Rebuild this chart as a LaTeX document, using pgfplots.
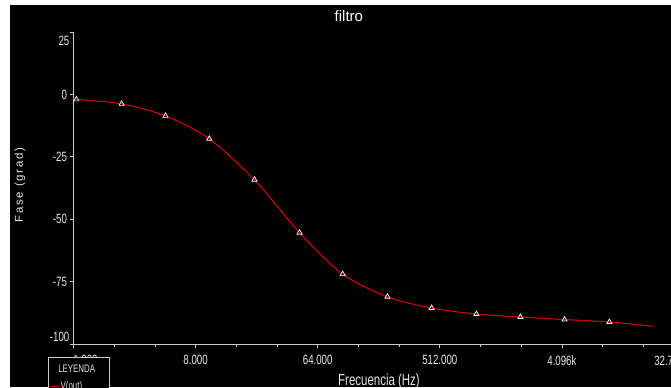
\documentclass[border=0pt]{standalone}
\usepackage{pgfplots}
\pgfplotsset{compat=1.18}
\usepackage{fontspec}
\setmainfont{Liberation Sans}
\newfontfamily\condfont{Liberation Sans}[FakeStretch=0.72]
\newfontfamily\spacedfont{Liberation Sans}[LetterSpace=15]
\definecolor{axgray}{RGB}{205,205,205}
\definecolor{txtgray}{RGB}{228,232,236}
\definecolor{curvered}{RGB}{210,0,0}
\begin{document}
\begin{tikzpicture}[x=1bp,y=1bp]
\fill[white] (0,0) rectangle (671,387);
\fill[black] (10,0) rectangle (671,382);
\begin{axis}[
  at={(73.5bp,43bp)}, anchor=south west,
  scale only axis, width=610.5bp, height=312bp,
  xmode=log, log basis x=2,
  xmin=1, xmax=32768, ymin=-100, ymax=25,
  axis x line*=bottom, axis y line*=left,
  axis line style={axgray, line width=0.8bp},
  xtick={1,8,64,512,4096,32768},
  xticklabels={\hspace*{24bp}1.000,8.000,64.000,512.000,4.096k,\hspace*{-25bp}32.768k},
  extra x ticks={2,4,16,32,128,256,1024,2048,8192,16384},
  extra x tick labels={},
  extra x tick style={major tick length=2.5bp},
  ytick={-100,-75,-50,-25,0,25},
  yticklabels={,-75,-50,-25,0,},
  tick align=outside,
  major tick length=4bp,
  every tick/.style={axgray, line width=0.8bp},
  tick label style={txtgray, font=\condfont\fontsize{13.5}{15}\selectfont},
  xticklabel style={yshift=-4bp},
  yticklabel style={xshift=1bp},
  title={filtro},
  title style={at={(axis description cs:0.451,1.032)}, anchor=center, white, font=\fontsize{15}{17}\selectfont},
  xlabel={Frecuencia (Hz)},
  xlabel style={at={(axis description cs:0.5004,-0.1186)}, anchor=center, txtgray, font=\condfont\fontsize{16}{18}\selectfont},
  ylabel={Fase (grad)},
  ylabel style={at={(axis description cs:-0.0876,0.5096)}, anchor=center, rotate=0, txtgray, font=\spacedfont\fontsize{11.5}{13}\selectfont},
  legend style={at={(axis description cs:-0.0418,-0.0417)}, anchor=north west,
    fill=black, draw=axgray, text=txtgray, font=\condfont\fontsize{11}{13}\selectfont,
    inner xsep=1bp, inner ysep=6bp, row sep=5bp, nodes={inner sep=1.5bp}},
  legend cell align=left,
  clip=false,
]
\addlegendimage{empty legend}
\addlegendentry{\makebox[32bp][c]{LEYENDA}}
\addplot[curvered, line width=1.1bp, smooth, legend image code/.code={\draw[curvered, line width=1bp] (0bp,0bp) -- (9bp,0bp);}] coordinates {
(1,-1.8) (1.05,-2.0) (2.27,-3.8) (4.79,-8.6) (10.1,-17.8) (21.8,-34.2) (47,-55.4)
(98,-72) (210,-81.1) (445,-85.6) (955,-88) (2020,-89.2) (4280,-90.2) (9200,-91.2) (19500,-92.9)
};
\addlegendentry{\makebox[46bp][l]{V(out)}}
\addplot[only marks, mark=triangle, mark size=3bp, mark options={draw=white, fill=none, line width=0.7bp}, forget plot] coordinates {
(1.05,-2.0) (2.27,-3.8) (4.79,-8.6) (10.1,-17.8) (21.8,-34.2) (47,-55.4)
(98,-72) (210,-81.1) (445,-85.6) (955,-88) (2020,-89.2) (4280,-90.2) (9200,-91.2)
};
\node[anchor=east, txtgray, font=\condfont\fontsize{13.5}{15}\selectfont, inner sep=0pt] at ([xshift=-4bp]axis cs:1,-97.2) {-100};
\node[anchor=east, txtgray, font=\condfont\fontsize{13.5}{15}\selectfont, inner sep=0pt] at ([xshift=-4bp]axis cs:1,21.5) {25};
\end{axis}
\pgfresetboundingbox
\useasboundingbox (0,0) rectangle (671,387);
\end{tikzpicture}
\end{document}
